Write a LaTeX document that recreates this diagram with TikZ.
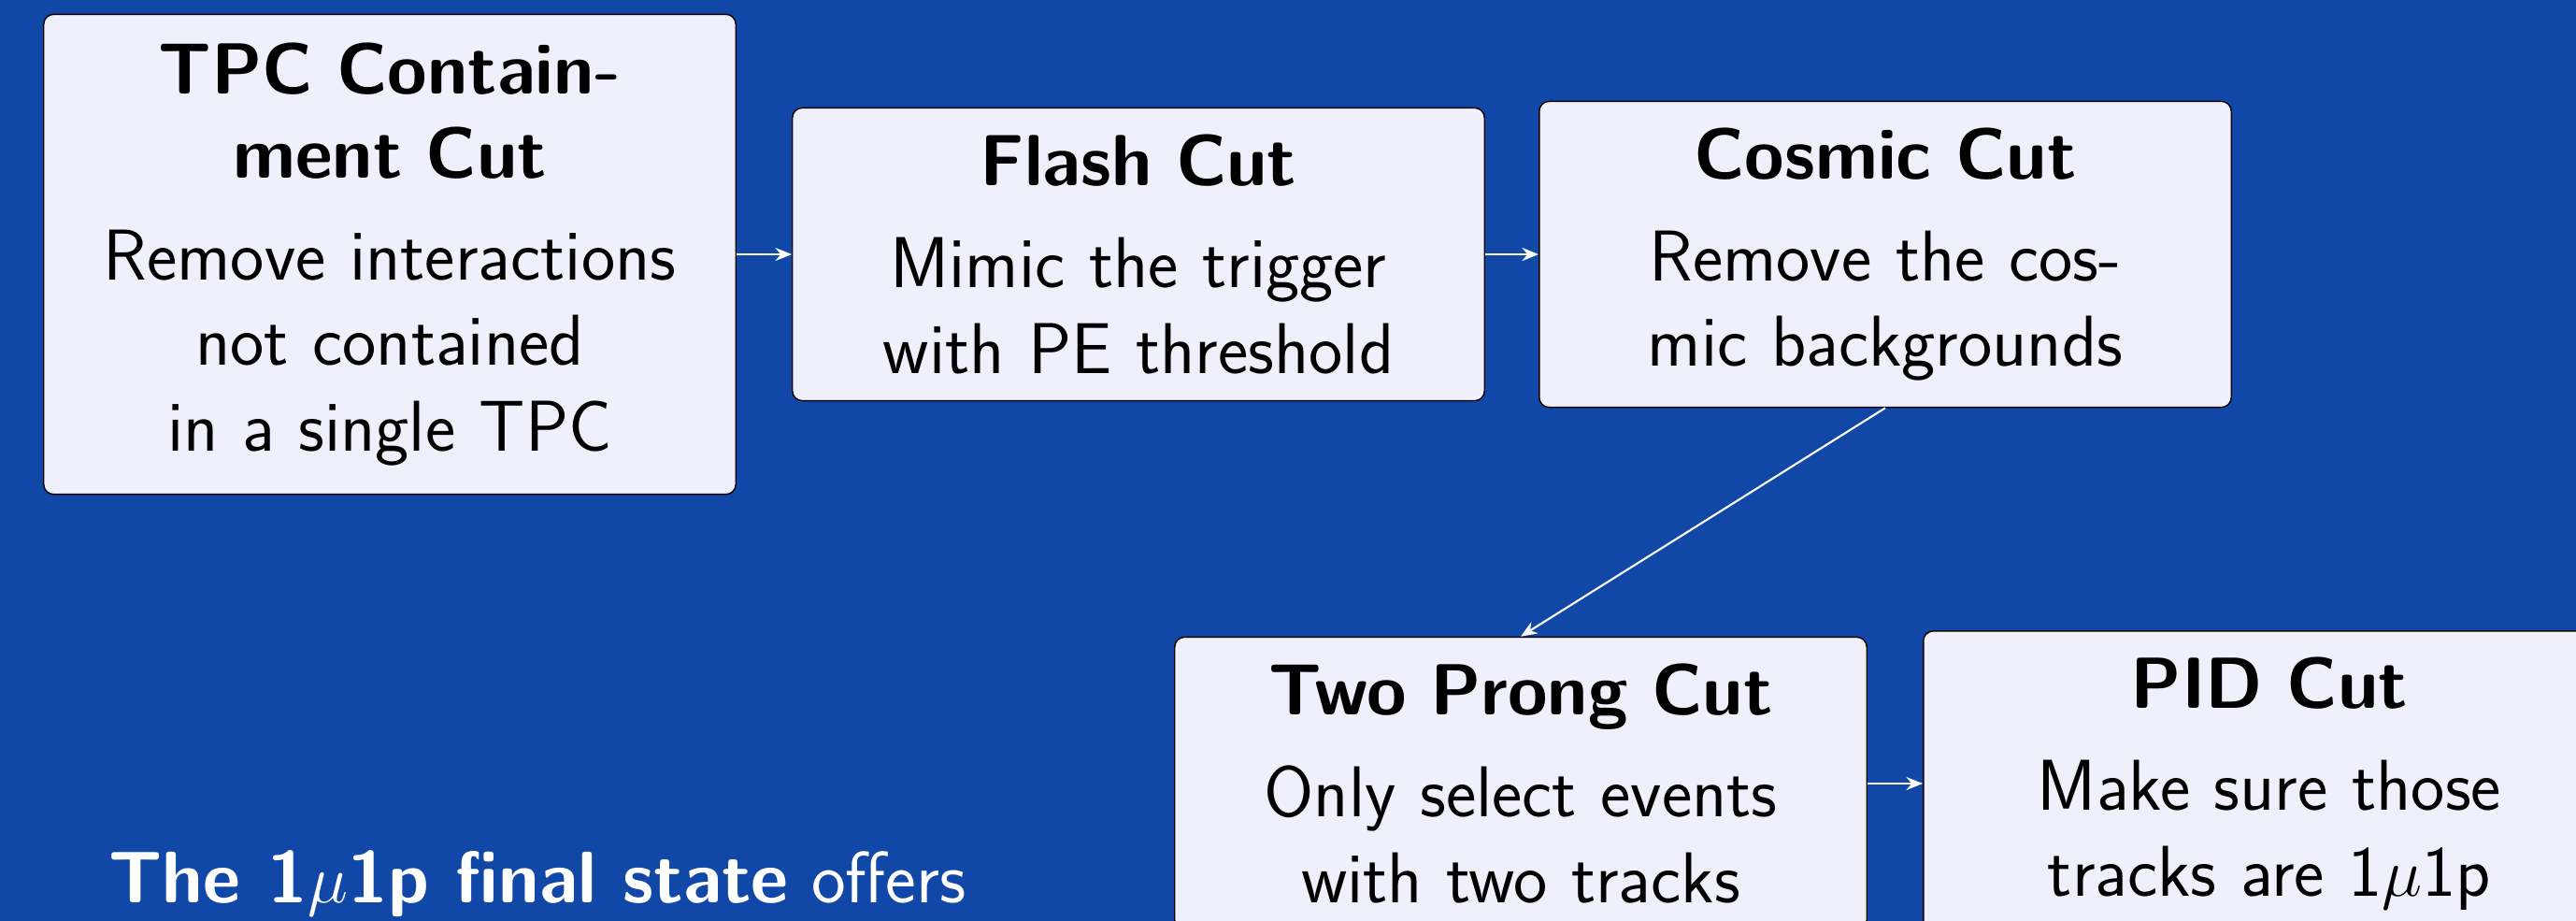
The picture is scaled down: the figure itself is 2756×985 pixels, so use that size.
\documentclass[tikz,border=0pt]{standalone}
\usepackage{xcolor}
\usepackage{tikz}
\usetikzlibrary{positioning,arrows.meta}
\definecolor{slideblue}{RGB}{17,72,168}
\definecolor{boxfill}{RGB}{240,240,252}
\newcommand{\cuttitle}[1]{{\bfseries\fontsize{22}{25.6}\selectfont #1\par}\vspace{5pt}}

\begin{document}
\begin{tikzpicture}[x=0.01cm,y=-0.01cm,
							cut/.style = {draw=black, fill=boxfill, rounded corners=3pt, text width=6.9cm, inner xsep=0.25cm, inner ysep=0pt, align=center, font=\sffamily\fontsize{21.9}{26}\selectfont},
							flow/.style = {-{Stealth[length=5pt,width=4pt]}, draw=white, line width=0.6pt}]
			\fill[slideblue] (0,0) rectangle (2756,985);
			\useasboundingbox (0,0) rectangle (2756,985);
			\clip (0,0) rectangle (2756,985);
			\node[cut, minimum height=5.13cm] (tpc) at (417,272) {\cuttitle{TPC Contain-\\ment Cut}Remove interactions\\not contained\\in a single TPC};
			\node[cut, minimum height=3.13cm] (flash) at (1218,272) {\cuttitle{Flash Cut}Mimic the trigger\\with PE threshold};
			\node[cut, minimum height=3.27cm] (cosmic) at (2017,272) {\cuttitle{Cosmic Cut}Remove the cos-\\mic backgrounds};
			\node[cut, minimum height=3.13cm] (prong) at (1627,838) {\cuttitle{Two Prong Cut}Only select events\\with two tracks};
			\node[cut, minimum height=3.26cm] (pid) at (2428,838) {\cuttitle{PID Cut}Make sure those\\tracks are 1$\mu$1p};
			\node[anchor=base west, inner sep=0pt, text=white, font=\sffamily\fontsize{22.2}{26}\selectfont] (offer) at (116,965) {\textbf{The 1$\mu$1p final state} offers};
			
			\draw[flow] (tpc.east) to (flash.west);
			\draw[flow] (flash.east) to (cosmic.west);
			\draw[flow] (cosmic.south) to (prong.north);
			\draw[flow] (prong.east) to (pid.west);
		\end{tikzpicture}
\end{document}
